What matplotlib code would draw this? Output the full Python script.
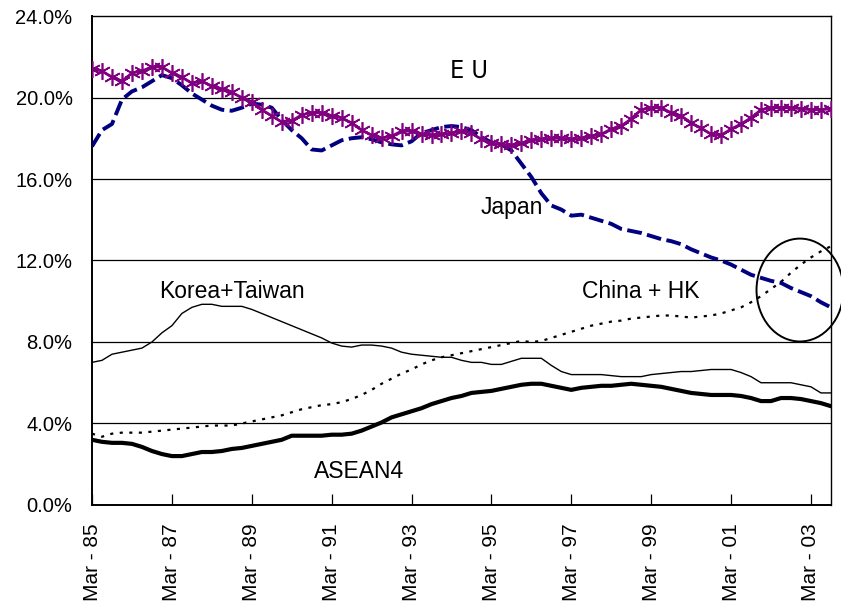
import numpy as np
import matplotlib
matplotlib.use("Agg")
import matplotlib.pyplot as plt
from matplotlib.patches import Ellipse
from matplotlib.ticker import FuncFormatter

# Shares of total exports by destination, quarterly Mar-85 .. Sep-03 (%)
eu = [21.4, 21.3, 21.0, 20.8, 21.2, 21.3, 21.5, 21.5,
      21.2, 21.0, 20.7, 20.8, 20.55, 20.4, 20.25, 20.0,
      19.8, 19.4, 19.1, 18.8, 18.85, 19.15, 19.25, 19.25,
      19.1, 19.0, 18.75, 18.4, 18.15, 18.0, 18.1, 18.35,
      18.35, 18.2, 18.15, 18.2, 18.25, 18.35, 18.25, 17.95,
      17.75, 17.7, 17.65, 17.75, 17.9, 17.95, 18.0, 18.0,
      17.95, 18.0, 18.1, 18.2, 18.45, 18.6, 18.95, 19.4,
      19.5, 19.5, 19.25, 19.1, 18.75, 18.5, 18.2, 18.15,
      18.45, 18.7, 19.0, 19.4, 19.5, 19.5, 19.5, 19.45,
      19.4, 19.4, 19.45]
japan = [17.6, 18.4, 18.7, 19.9, 20.3, 20.5, 20.8, 21.1,
         20.95, 20.6, 20.2, 19.9, 19.6, 19.4, 19.35, 19.5,
         19.7, 19.65, 19.5, 18.9, 18.4, 18.0, 17.45, 17.4,
         17.65, 17.9, 18.0, 18.05, 17.95, 17.8, 17.7, 17.65,
         17.85, 18.25, 18.4, 18.55, 18.6, 18.55, 18.4, 18.05,
         17.8, 17.7, 17.4, 16.75, 16.1, 15.3, 14.7, 14.5,
         14.2, 14.25, 14.1, 13.95, 13.8, 13.55, 13.45, 13.35,
         13.2, 13.05, 12.95, 12.8, 12.55, 12.35, 12.15, 12.0,
         11.8, 11.55, 11.3, 11.15, 11.0, 10.9, 10.65, 10.45,
         10.25, 9.95, 9.7]
china_hk = [3.5, 3.35, 3.5, 3.55, 3.55, 3.55, 3.6, 3.65,
            3.7, 3.75, 3.8, 3.85, 3.9, 3.9, 3.9, 4.0,
            4.1, 4.2, 4.3, 4.4, 4.55, 4.7, 4.8, 4.9,
            4.95, 5.05, 5.2, 5.4, 5.65, 5.95, 6.2, 6.45,
            6.65, 6.9, 7.1, 7.25, 7.35, 7.45, 7.55, 7.65,
            7.75, 7.85, 7.95, 8.05, 8.0, 8.05, 8.2, 8.35,
            8.5, 8.65, 8.8, 8.9, 9.0, 9.05, 9.15, 9.2,
            9.25, 9.3, 9.3, 9.25, 9.2, 9.25, 9.3, 9.4,
            9.55, 9.7, 9.95, 10.25, 10.6, 10.95, 11.4, 11.8,
            12.15, 12.45, 12.7]
korea_taiwan = [7.0, 7.1, 7.4, 7.5, 7.6, 7.7, 8.0, 8.45,
                8.8, 9.4, 9.7, 9.85, 9.85, 9.75, 9.75, 9.75,
                9.6, 9.4, 9.2, 9.0, 8.8, 8.6, 8.4, 8.2,
                7.95, 7.8, 7.75, 7.85, 7.85, 7.8, 7.7, 7.5,
                7.4, 7.35, 7.3, 7.25, 7.25, 7.1, 7.0, 7.0,
                6.9, 6.9, 7.05, 7.2, 7.2, 7.2, 6.85, 6.55,
                6.4, 6.4, 6.4, 6.4, 6.35, 6.3, 6.3, 6.3,
                6.4, 6.45, 6.5, 6.55, 6.55, 6.6, 6.65, 6.65,
                6.65, 6.5, 6.3, 6.0, 6.0, 6.0, 6.0, 5.9,
                5.8, 5.5, 5.5]
asean4 = [3.2, 3.1, 3.05, 3.05, 3.0, 2.85, 2.65, 2.5,
          2.4, 2.4, 2.5, 2.6, 2.6, 2.65, 2.75, 2.8,
          2.9, 3.0, 3.1, 3.2, 3.4, 3.4, 3.4, 3.4,
          3.45, 3.45, 3.5, 3.65, 3.85, 4.05, 4.3, 4.45,
          4.6, 4.75, 4.95, 5.1, 5.25, 5.35, 5.5, 5.55,
          5.6, 5.7, 5.8, 5.9, 5.95, 5.95, 5.85, 5.75,
          5.65, 5.75, 5.8, 5.85, 5.85, 5.9, 5.95, 5.9,
          5.85, 5.8, 5.7, 5.6, 5.5, 5.45, 5.4, 5.4,
          5.4, 5.35, 5.25, 5.1, 5.1, 5.25, 5.25, 5.2,
          5.1, 5.0, 4.85]

tick_labels = ["Mar - 85", "Mar - 87", "Mar - 89", "Mar - 91", "Mar - 93",
               "Mar - 95", "Mar - 97", "Mar - 99", "Mar - 01", "Mar - 03"]

plt.rcParams['font.family'] = ['Liberation Sans', 'DejaVu Sans']

q = np.arange(len(eu))

fig = plt.figure(figsize=(8.41, 6.09), dpi=100)
ax = fig.add_axes([0.1094, 0.1708, 0.8786, 0.8029])

for yv in [4, 8, 12, 16, 20]:
    ax.axhline(yv, color='black', lw=0.9, zorder=1)

ax.plot(q, korea_taiwan, color='black', lw=1.0, zorder=3)
ax.plot(q, asean4, color='black', lw=3.0, zorder=3)
ax.plot(q, china_hk, color='black', lw=1.6, dashes=(1.4, 2.9), zorder=3)
ax.plot(q, japan, color='#000080', lw=2.8, dashes=(3.8, 1.4), zorder=4)
ax.plot(q, eu, color='#800080', lw=2.0, marker=(6, 2, 0), markersize=12,
        markeredgewidth=1.2, zorder=5)

# ring round the crossing of Japan and China + HK
ax.add_patch(Ellipse((70.9, 10.55), 8.7, 5.05, fill=False, ec='black',
                     lw=1.4, clip_on=False, zorder=6))

ax.text(37.8, 21.3, "E U", fontsize=18, ha='center', va='center',
        family='DejaVu Sans', fontstretch='condensed')
ax.text(42, 14.6, "Japan", fontsize=16.5, ha='center', va='center')
ax.text(14, 10.5, "Korea+Taiwan", fontsize=16.5, ha='center', va='center')
ax.text(55, 10.5, "China + HK", fontsize=16.5, ha='center', va='center')
ax.text(26.7, 1.65, "ASEAN4", fontsize=16.5, ha='center', va='center')

ax.set_xlim(0, 74)
ax.set_ylim(0, 24)
ax.set_yticks(np.arange(0, 25, 4))
ax.yaxis.set_major_formatter(FuncFormatter(lambda v, p: f"{v:.1f}%"))
ax.set_xticks(np.arange(0, 75, 8))
ax.set_xticklabels(tick_labels, rotation=90)

ax.tick_params(axis='x', direction='in', length=8, width=0.9, pad=13,
               labelsize=15)
ax.tick_params(axis='y', length=0, pad=14, labelsize=14.5)

for s in ax.spines.values():
    s.set_linewidth(1.0)
    s.set_color('black')
ax.spines['left'].set_linewidth(1.4)
ax.spines['bottom'].set_linewidth(1.4)

fig.savefig("out.png", dpi=100)
